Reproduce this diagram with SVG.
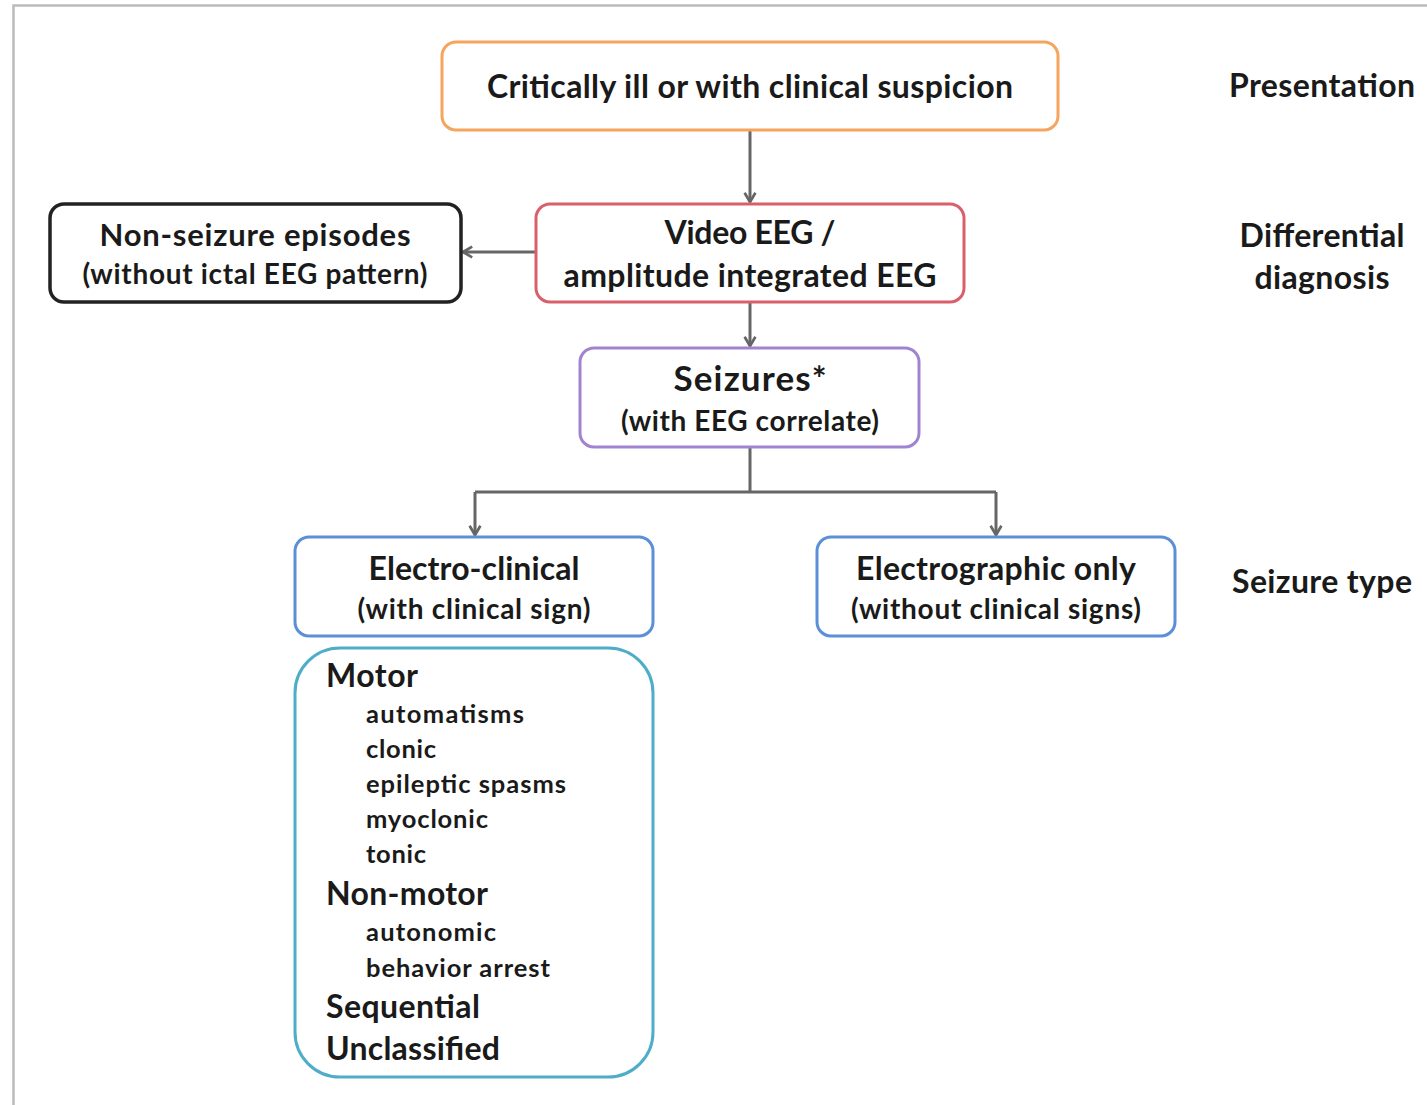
<svg xmlns="http://www.w3.org/2000/svg" width="1427" height="1105" viewBox="0 0 1427 1105">
<style>
text{font-family:Lato,"Open Sans","Liberation Sans",sans-serif;font-weight:bold;fill:#1a1a1a}
.c{text-anchor:middle}
.box{fill:#fff;stroke-width:3}
.conn{fill:none;stroke:#666;stroke-width:3}
.t1{font-size:32px}
.t2{font-size:28px}
.li{font-size:25.5px}
</style>
<defs>
<marker id="ah" viewBox="0 0 10 12" refX="9.5" refY="6" markerWidth="11" markerHeight="13" orient="auto" markerUnits="userSpaceOnUse" style="overflow:visible">
<path d="M1,1 L9.5,6 L1,11" fill="none" stroke="#666" stroke-width="2.5" stroke-linejoin="round"/>
</marker>
</defs>
<rect width="1427" height="1105" fill="#fff"/>
<path d="M13.5,1105 V5.5 H1427" fill="none" stroke="#bbb" stroke-width="2.5"/>

<g id="connectors">
<path class="conn" d="M750,131 V202" marker-end="url(#ah)"/>
<path class="conn" d="M535,252 H463" marker-end="url(#ah)"/>
<path class="conn" d="M750,303 V346" marker-end="url(#ah)"/>
<path class="conn" d="M750,448 V492 M475,492 H996"/>
<path class="conn" d="M475,492 V535" marker-end="url(#ah)"/>
<path class="conn" d="M996,492 V535" marker-end="url(#ah)"/>
</g>

<g id="presentation">
<rect class="box" x="442" y="42" width="616" height="88" rx="14" stroke="#F5A55F"/>
<text class="c t1" x="750" y="98" textLength="526" lengthAdjust="spacing">Critically ill or with clinical suspicion</text>
</g>
<g id="video-eeg">
<rect class="box" x="536" y="204" width="428" height="98" rx="14" stroke="#D9606A"/>
<text class="c t1" x="750" y="244" textLength="171" lengthAdjust="spacing">Video EEG /</text>
<text class="c t1" x="750" y="287" textLength="373" lengthAdjust="spacing">amplitude integrated EEG</text>
</g>
<g id="non-seizure">
<rect class="box" x="50" y="204" width="411" height="98" rx="14" stroke="#222" style="stroke-width:3.5"/>
<text class="c" x="255" y="246" style="font-size:31px" textLength="311" lengthAdjust="spacing">Non-seizure episodes</text>
<text class="c t2" x="255" y="284" textLength="345" lengthAdjust="spacing">(without ictal EEG pattern)</text>
</g>
<g id="seizures">
<rect class="box" x="580" y="348" width="339" height="99" rx="14" stroke="#A084D2"/>
<text class="c" x="750" y="391" style="font-size:35px" textLength="153" lengthAdjust="spacing">Seizures*</text>
<text class="c t2" x="750" y="431" textLength="258" lengthAdjust="spacing">(with EEG correlate)</text>
</g>
<g id="electro-clinical">
<rect class="box" x="295" y="537" width="358" height="99" rx="14" stroke="#5B8FD8"/>
<text class="c t1" x="474" y="580" textLength="211" lengthAdjust="spacing">Electro-clinical</text>
<text class="c t2" x="474" y="619" textLength="233" lengthAdjust="spacing">(with clinical sign)</text>
</g>
<g id="electrographic">
<rect class="box" x="817" y="537" width="358" height="99" rx="14" stroke="#5B8FD8"/>
<text class="c t1" x="996" y="580" textLength="280" lengthAdjust="spacing">Electrographic only</text>
<text class="c t2" x="996" y="619" textLength="290" lengthAdjust="spacing">(without clinical signs)</text>
</g>
<g id="types-list">
<rect class="box" x="295" y="648" width="358" height="429" rx="45" stroke="#4FADC8"/>
<text class="t1" x="326" y="687" textLength="92" lengthAdjust="spacing">Motor</text>
<text class="li" x="366" y="723" textLength="158" lengthAdjust="spacing">automatisms</text>
<text class="li" x="366" y="758" textLength="70" lengthAdjust="spacing">clonic</text>
<text class="li" x="366" y="793" textLength="200" lengthAdjust="spacing">epileptic spasms</text>
<text class="li" x="366" y="828" textLength="122" lengthAdjust="spacing">myoclonic</text>
<text class="li" x="366" y="863" textLength="60" lengthAdjust="spacing">tonic</text>
<text class="t1" x="326" y="905" textLength="162" lengthAdjust="spacing">Non-motor</text>
<text class="li" x="366" y="941" textLength="130" lengthAdjust="spacing">autonomic</text>
<text class="li" x="366" y="977" textLength="184" lengthAdjust="spacing">behavior arrest</text>
<text class="t1" x="326" y="1018" textLength="154" lengthAdjust="spacing">Sequential</text>
<text class="t1" x="326" y="1060" textLength="174" lengthAdjust="spacing">Unclassified</text>
</g>
<g id="labels">
<text class="c t1" x="1322" y="97" textLength="186" lengthAdjust="spacing">Presentation</text>
<text class="c t1" x="1322" y="247" textLength="165" lengthAdjust="spacing">Differential</text>
<text class="c t1" x="1322" y="289" textLength="135" lengthAdjust="spacing">diagnosis</text>
<text class="c t1" x="1322" y="593" textLength="180" lengthAdjust="spacing">Seizure type</text>
</g>
</svg>
